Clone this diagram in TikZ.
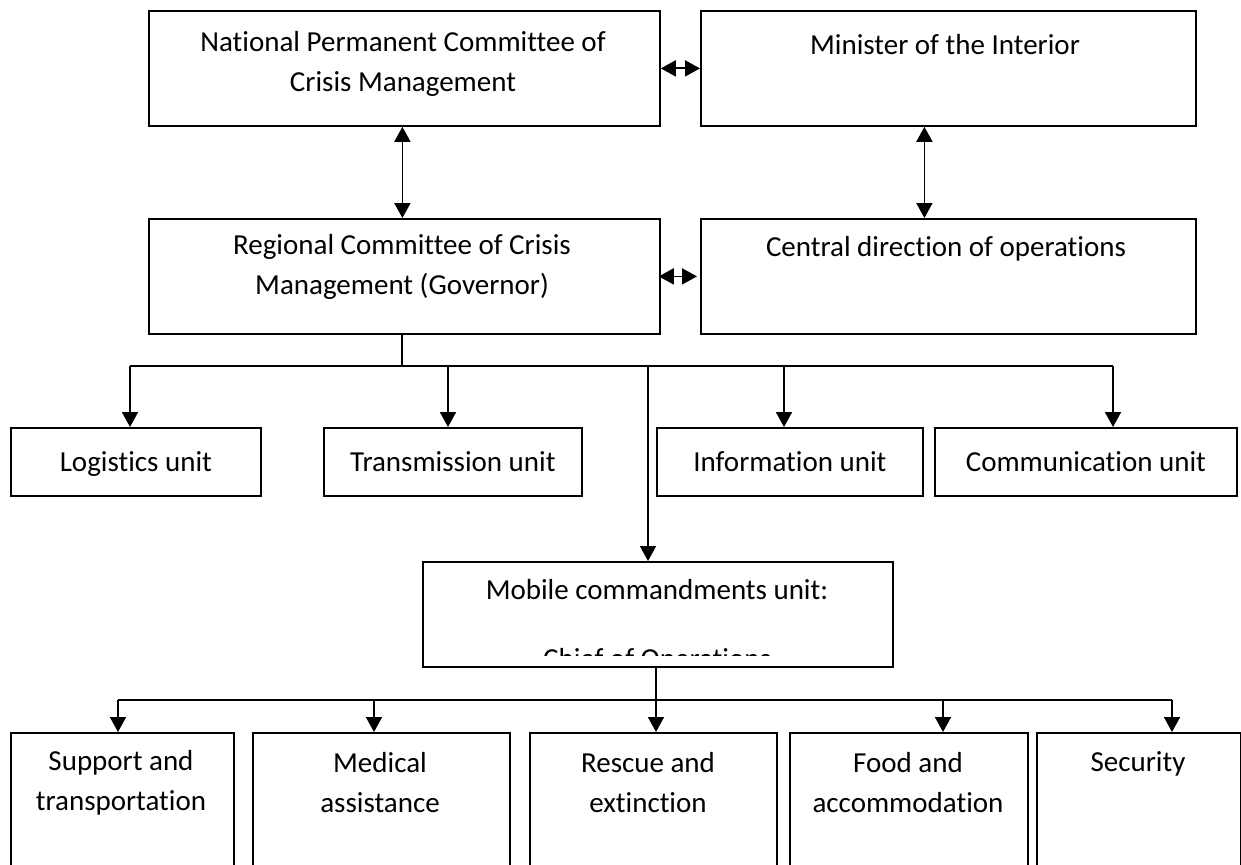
\documentclass[tikz,border=0pt]{standalone}
\usepackage{fontspec}
\setmainfont{Carlito}[Ligatures=NoCommon]
\usetikzlibrary{arrows.meta,calc}
\begin{document}
\begin{tikzpicture}[x=1pt,y=-1pt,
  box/.style={draw,line width=1.8pt,inner sep=0pt,anchor=north west},
  lbl/.style={font=\fontsize{29}{40}\selectfont,inner sep=0pt,align=center,anchor=center},
  lbla/.style={lbl,text height=20pt,text depth=7pt,yshift=-3pt},
  arr/.style={line width=1.8pt,-{Triangle[length=15pt,width=16pt]}},
  darr/.style={line width=1.8pt,{Triangle[length=15pt,width=16pt]}-{Triangle[length=15pt,width=16pt]}},
  ln/.style={line width=1.8pt}]
\useasboundingbox (0,0) rectangle (1241,864);
\clip (0,0) rectangle (1241,864);
% top level
\node[box,minimum width=511pt,minimum height=115pt] (nat) at (148,10) {};
\node[box,minimum width=495pt,minimum height=115pt] (min) at (700,10) {};
\node[box,minimum width=511pt,minimum height=115pt] (reg) at (148,218) {};
\node[box,minimum width=495pt,minimum height=115pt] (cen) at (700,218) {};
\node[lbl] (natt) at (403,64) {National Permanent Committee of\\Crisis Management};
\node[lbla] (mint) at (945,45) {Minister of the Interior};
\node[lbl] (regt) at (402,267) {Regional Committee of Crisis\\Management (Governor)};
\node[lbla] (cent) at (946,247) {Central direction of operations};
% units
\node[box,minimum width=250pt,minimum height=68pt] (log) at (10,427) {};
\node[box,minimum width=258pt,minimum height=68pt] (tra) at (323,427) {};
\node[box,minimum width=266pt,minimum height=68pt] (inf) at (656,427) {};
\node[box,minimum width=302pt,minimum height=68pt] (com) at (934,427) {};
\node[lbla] (logt) at (log.center) {Logistics unit};
\node[lbla] (trat) at (tra.center) {Transmission unit};
\node[lbla] (inft) at (inf.center) {Information unit};
\node[lbla] (comt) at (com.center) {Communication unit};
% mobile
\node[box,minimum width=470pt,minimum height=105pt] (mob) at (422,561) {};
\node[lbla] (mobt) at (657,590) {Mobile commandments unit:};
\begin{scope}
\clip (424,563) rectangle (890,655);
\node[lbla] (chief) at (657,659) {Chief of Operations};
\end{scope}
% bottom boxes
\node[box,minimum width=223pt,minimum height=200pt] (sup) at (10,732) {};
\node[box,minimum width=257pt,minimum height=200pt] (med) at (252,732) {};
\node[box,minimum width=247pt,minimum height=200pt] (res) at (529,732) {};
\node[box,minimum width=238pt,minimum height=200pt] (food) at (789,732) {};
\node[box,minimum width=204pt,minimum height=200pt] (sec) at (1036,732) {};
\node[lbl] (supt) at (121,783) {Support and\\transportation};
\node[lbl] (medt) at (380,783) {Medical\\assistance};
\node[lbl] (rest) at (648,783) {Rescue and\\extinction};
\node[lbl] (foodt) at (908,783) {Food and\\accommodation};
\node[lbla] (sect) at (1138,762) {Security};
% connectors top
\draw[darr] (nat.east) -- (min.west);
\draw[darr] ([xshift=-2pt]reg.east) -- ([xshift=-3pt]cen.west);
\draw[darr] ([xshift=-2pt]nat.south) -- ([xshift=-2pt]reg.north);
\draw[darr] ([xshift=-24pt]min.south) -- ([xshift=-24pt]cen.north);
% bus 1
\coordinate (t1) at (130,366);
\coordinate (t2) at (448,366);
\coordinate (t3) at (784,366);
\coordinate (t4) at (1113,366);
\coordinate (t5) at (648,366);
\coordinate (t0) at (402,366);
\draw[ln] (reg.south -| t0) -- (t0);
\draw[ln] (t1) -- (t4);
\draw[arr] (t1) -- (t1 |- log.north);
\draw[arr] (t2) -- (t2 |- tra.north);
\draw[arr] (t3) -- (t3 |- inf.north);
\draw[arr] (t4) -- (t4 |- com.north);
\draw[arr] (t5) -- (t5 |- mob.north);
% bus 2
\coordinate (u1) at (118,700);
\coordinate (u2) at (374,700);
\coordinate (u3) at (656,700);
\coordinate (u4) at (943,700);
\coordinate (u5) at (1172,700);
\draw[ln] (u1) -- (u5);
\draw[arr] (mob.south -| u3) -- (u3 |- res.north);
\draw[arr] (u1) -- (u1 |- sup.north);
\draw[arr] (u2) -- (u2 |- med.north);
\draw[arr] (u4) -- (u4 |- food.north);
\draw[arr] (u5) -- (u5 |- sec.north);
\end{tikzpicture}
\end{document}
